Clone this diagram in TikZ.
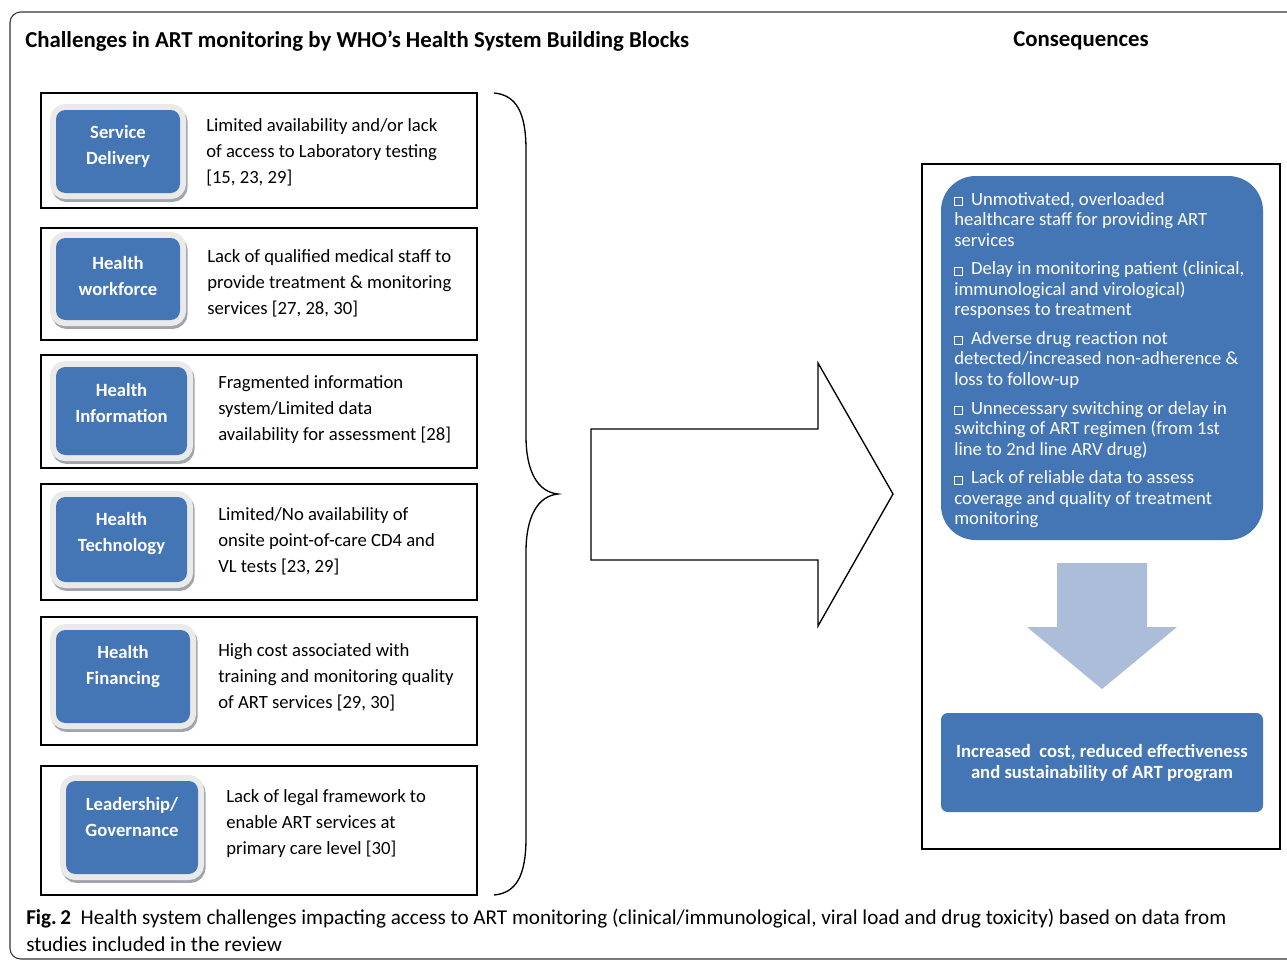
\documentclass[tikz,border=0pt]{standalone}
\usepackage{fontspec}
\setmainfont{Carlito}
\definecolor{blu}{RGB}{68,118,182}
\definecolor{lblu}{RGB}{172,189,217}
\definecolor{rim}{RGB}{234,234,234}
\definecolor{shd}{RGB}{160,165,172}
\newcommand\cbox{{\fboxsep=0pt\fboxrule=0.55pt\color{white}\fbox{\rule{0pt}{5.5pt}\hspace{5.5pt}}}\hspace{6pt}}
\begin{document}
\begin{tikzpicture}[x=0.75pt,y=-0.75pt,
  outerbox/.style={draw=black, line width=1pt, inner sep=0pt},
  blk/.style={fill=blu, rounded corners=7pt, inner sep=0pt,
    preaction={draw=shd, line width=9pt, rounded corners=7pt, transform canvas={xshift=1.2pt,yshift=-2.2pt}},
    preaction={draw=rim, line width=9pt, rounded corners=7pt}},
  lab/.style={text=white, font=\bfseries\fontsize{14}{19.5}\selectfont, align=center, inner sep=0pt},
  desc/.style={anchor=west, align=left, inner sep=0pt, font=\fontsize{14}{19.5}\selectfont},
  ttl/.style={anchor=west, inner sep=0pt, font=\bfseries\fontsize{17.1}{20}\selectfont}]
\useasboundingbox (0,0) rectangle (1287,961);
\begin{scope}
\clip (0,0) rectangle (1287,961);
\draw[line width=0.8pt, draw=black!80, rounded corners=8pt] (10,12) rectangle (1330,959);
\end{scope}

\node[ttl] (t1) at (25,41) {Challenges in ART monitoring by WHO’s Health System Building Blocks};
\node[ttl] (t2) at (1013,41) {Consequences};

% left boxes
\node[outerbox, minimum width=327pt, minimum height=86.25pt] (b1) at (259,150.5) {};
\node[outerbox, minimum width=327pt, minimum height=84pt] (b2) at (259,284) {};
\node[outerbox, minimum width=327pt, minimum height=84.75pt] (b3) at (259,411.5) {};
\node[outerbox, minimum width=327pt, minimum height=87pt] (b4) at (259,542) {};
\node[outerbox, minimum width=327pt, minimum height=96pt] (b5) at (259,681) {};
\node[outerbox, minimum width=327pt, minimum height=96.75pt] (b6) at (259,830.5) {};

\node[blk, minimum width=93pt, minimum height=62.25pt] (k1) at (118,151.5) {};
\node[blk, minimum width=93pt, minimum height=61.5pt] (k2) at (118,279) {};
\node[blk, minimum width=98.25pt, minimum height=66pt] (k3) at (121.5,411) {};
\node[blk, minimum width=98.25pt, minimum height=63.75pt] (k4) at (121.5,539.5) {};
\node[blk, minimum width=100.5pt, minimum height=69.75pt] (k5) at (123,676.5) {};
\node[blk, minimum width=99pt, minimum height=69.75pt] (k6) at (132,827.5) {};

\node[lab] (l1) at (118,146.5) {Service\\Delivery};
\node[lab] (l2) at (118,276.5) {Health\\workforce};
\node[lab] (l3) at (121.5,403.5) {Health\\Information};
\node[lab] (l4) at (121.5,533.5) {Health\\Technology};
\node[lab] (l5) at (123,666.5) {Health\\Financing};
\node[lab] (l6) at (132,817.5) {Leadership/\\Governance};

\node[desc] (d1) at (206,152) {Limited availability and/or lack\\of access to Laboratory testing\\{[15, 23, 29]}};
\node[desc] (d2) at (207,283) {Lack of qualified medical staff to\\provide treatment \& monitoring\\services [27, 28, 30]};
\node[desc] (d3) at (218,410) {Fragmented information\\system/Limited data\\availability for assessment [28]};
\node[desc] (d4) at (218,541) {Limited/No availability of\\onsite point-of-care CD4 and\\VL tests [23, 29]};
\node[desc] (d5) at (218,677) {High cost associated with\\training and monitoring quality\\of ART services [29, 30]};
\node[desc] (d6) at (226,824) {Lack of legal framework to\\enable ART services at\\primary care level [30]};

% brace
\coordinate (bt) at (494,93);
\coordinate (bm) at (558,494);
\coordinate (bb) at (494,895);
\draw[line width=1pt] (bt) .. controls (516,95) and (526,112) .. (526,150) -- (526,436)
  .. controls (526,472) and (538,492) .. (bm)
  .. controls (538,496) and (526,516) .. (526,552) -- (526,838)
  .. controls (526,876) and (516,893) .. (bb);

% big arrow
\draw[line width=1pt, line join=miter] (591,429) -- (818,429) -- (818,363) -- (893,494) -- (818,626) -- (818,560) -- (591,560) -- cycle;

% right side
\node[draw=black, line width=1pt, minimum width=268.5pt, minimum height=513.75pt, inner sep=0pt] (rf) at (1101,506.5) {};
\node[fill=blu, rounded corners=26pt, minimum width=241.5pt, minimum height=273pt, inner sep=0pt] (cb) at (1102,358) {};
\node[anchor=north west, align=left, inner sep=0pt, text=white, font=\fontsize{14}{15.4}\selectfont] (ct) at (954,192)
{\cbox Unmotivated, overloaded\\healthcare staff for providing ART\\services\\[6pt]
\cbox Delay in monitoring patient (clinical,\\immunological and virological)\\responses to treatment\\[6pt]
\cbox Adverse drug reaction not\\detected/increased non-adherence \&\\loss to follow-up\\[6pt]
\cbox Unnecessary switching or delay in\\switching of ART regimen (from 1st\\line to 2nd line ARV drug)\\[6pt]
\cbox Lack of reliable data to assess\\coverage and quality of treatment\\monitoring};

\fill[lblu] (1057,563) -- (1147,563) -- (1147,627) -- (1177,627) -- (1102,689) -- (1027,627) -- (1057,627) -- cycle;

\node[fill=blu, rounded corners=5pt, minimum width=241.5pt, minimum height=74.25pt, inner sep=0pt] (rb) at (1102,762.5) {};
\node[align=center, text=white, inner sep=0pt, font=\bfseries\fontsize{14}{15.75}\selectfont] (rbt) at (1102,763.5) {Increased\ \ cost, reduced effectiveness\\and sustainability of ART program};

% caption
\node[anchor=north west, align=left, inner sep=0pt, font=\fontsize{15.85}{20.25}\selectfont] (cap) at (26,909)
{\textbf{Fig.\,2}\ \ Health system challenges impacting access to ART monitoring (clinical/immunological, viral load and drug toxicity) based on data from\\studies included in the review};
\end{tikzpicture}
\end{document}
